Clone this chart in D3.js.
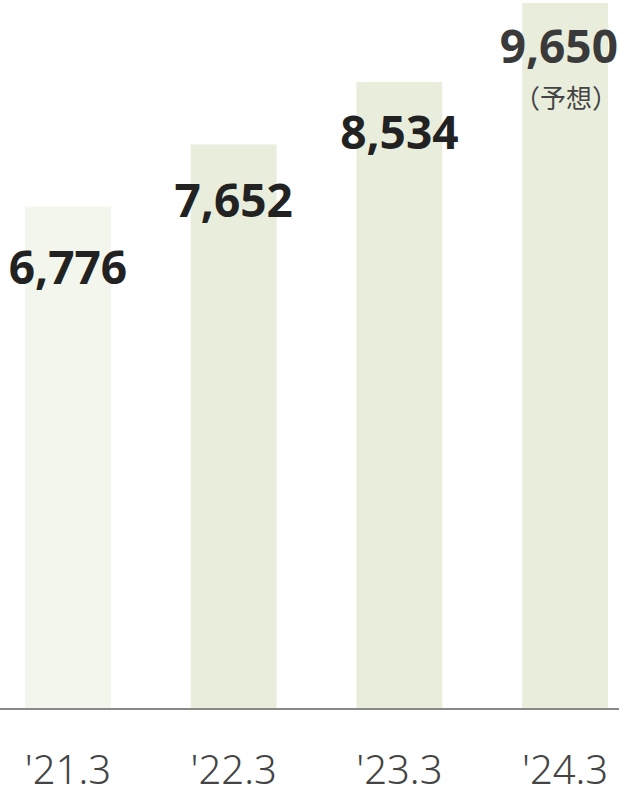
<!DOCTYPE html>
<html lang="ja">
<head>
<meta charset="utf-8">
<script src="https://cdn.jsdelivr.net/npm/d3@7"></script>
<style>
  html, body { margin: 0; padding: 0; background: #fff; }
  svg { display: block; }
</style>
</head>
<body>
<svg id="chart" width="619" height="787"></svg>
<script>
// Fiscal years (ending March) and their values
const categories = ["'21.3", "'22.3", "'23.3", "'24.3"];
const values = [6776, 7652, 8534, 9650];
const valueLabels = ["6,776", "7,652", "8,534", "9,650"];
const forecastFlags = [false, false, false, true];
const forecastNote = "（予想）";

const W = 619, H = 787;
const baseY = 708;
const svg = d3.select("#chart");

const x = d3.scaleBand()
  .domain(categories)
  .range([25, 608])
  .paddingInner(0.482)
  .paddingOuter(0);

// bar heights
const y = d3.scaleLinear().domain([-300, 9690]).range([baseY, 0]);
// value-label baselines
const yLabel = d3.scaleLinear().domain([6000, 10000]).range([344, 36]);

const data = categories.map((c, i) => ({
  cat: c, value: values[i], label: valueLabels[i], forecast: forecastFlags[i], i
}));

// bars
svg.append("g").selectAll("rect")
  .data(data)
  .join("rect")
  .attr("x", d => x(d.cat))
  .attr("y", d => y(d.value))
  .attr("width", x.bandwidth())
  .attr("height", d => baseY - y(d.value))
  .attr("fill", d => d.i === 0 ? "#f3f6ec" : "#e9eedc");

// baseline
svg.append("line")
  .attr("x1", 0).attr("x2", W)
  .attr("y1", baseY + 1).attr("y2", baseY + 1)
  .attr("stroke", "#888")
  .attr("stroke-width", 2);

// value labels, kept inside the right edge
svg.append("g").selectAll("text")
  .data(data)
  .join("text")
  .attr("y", d => yLabel(d.value))
  .attr("text-anchor", "middle")
  .attr("font-family", "'Noto Sans', sans-serif")
  .attr("font-weight", 700)
  .attr("font-size", 46)
  .attr("fill", d => d.forecast ? "#3a3a3a" : "#222")
  .text(d => d.label)
  .attr("x", function(d) {
    const cx = x(d.cat) + x.bandwidth() / 2;
    const w = this.getComputedTextLength();
    return Math.min(cx, W - 1 - w / 2);
  });

// forecast note
svg.append("g").selectAll("text")
  .data(data.filter(d => d.forecast))
  .join("text")
  .attr("x", W - 1)
  .attr("y", d => yLabel(d.value) + 45)
  .attr("text-anchor", "end")
  .attr("font-family", "'Noto Sans CJK JP', sans-serif")
  .attr("font-size", 26)
  .attr("fill", "#444")
  .text(forecastNote);

// category axis
const axis = svg.append("g")
  .attr("transform", `translate(0,${baseY})`)
  .call(d3.axisBottom(x).tickSize(0).tickPadding(0));
axis.select(".domain").remove();
axis.selectAll("text")
  .attr("dy", null)
  .attr("y", 76)
  .attr("font-family", "'Noto Sans', sans-serif")
  .attr("font-weight", 300)
  .attr("font-size", 40)
  .attr("fill", "#444");
</script>
</body>
</html>
